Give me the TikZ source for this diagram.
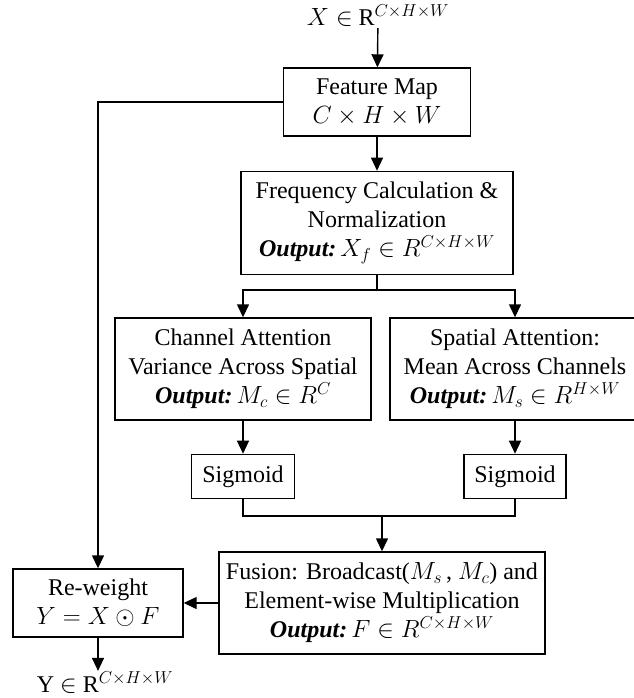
\documentclass[tikz,border=0pt]{standalone}
\usepackage{fontspec}
\setmainfont{Liberation Serif}
\usepackage{tikz}
\usetikzlibrary{arrows.meta, positioning, calc}

\begin{document}
\begin{tikzpicture}[
        x=1pt, y=-1pt,
        box/.style={rectangle, draw, line width=1.4pt, align=center, inner sep=2pt, font=\fontsize{24}{29}\selectfont},
        arrow/.style={-{Triangle[length=13pt, width=12pt]}, line width=1.4pt},
        line/.style={line width=1.4pt},
        label/.style={font=\fontsize{24}{29}\selectfont, inner sep=1pt}
    ]
    \useasboundingbox (0,0) rectangle (633,698);

    \node[label] (xin) at (378,16) {$X \in$ R$^{C\times H\times W}$};
    \node[box, minimum width=187pt, minimum height=68pt] (fmap) at (377,102) {Feature Map \\ $C \times H \times W$};
    \node[box, minimum width=272pt, minimum height=103pt, below=34pt of fmap] (freq) {Frequency Calculation \& \\ Normalization \\ \textbf{\textit{Output:}}\,$X_f \in R^{C\times H\times W}$};
    \node[box, minimum width=256pt, minimum height=102pt] (chan) at (243,369) {Channel Attention \\ Variance Across Spatial \\ \textbf{\textit{Output:}}\,$M_c \in R^{C}$};
    \node[box, minimum width=250pt, minimum height=102pt] (spat) at (515,369) {Spatial Attention: \\ Mean Across Channels \\ \textbf{\textit{Output:}}\,$M_s \in R^{H\times W}$};
    \node[box, minimum width=103pt, minimum height=44pt, below=33pt of chan] (sigc) {Sigmoid};
    \node[box, minimum width=102pt, minimum height=44pt, below=33pt of spat] (sigs) {Sigmoid};
    \node[box, minimum width=326pt, minimum height=102pt] (fuse) at (382,603) {Fusion: Broadcast($M_s$\,, $M_c$) and \\ Element-wise Multiplication \\ \textbf{\textit{Output:}}\,$F \in R^{C\times H\times W}$};
    \node[box, minimum width=170pt, minimum height=68pt] (rew) at (98,603) {Re-weight \\ $Y = X \odot F$};
    \node[label] (yout) at (105,683) {Y $\in$ R$^{C\times H\times W}$};

    \coordinate (split) at (377,290);
    \coordinate (join) at (382,516);

    \draw[arrow] (xin) -- (fmap);
    \draw[arrow] (fmap) -- (freq);
    \draw[arrow] (fmap.west) -| (rew.north);
    \draw[line] (freq.south) -- (split);
    \draw[arrow] (split) -| (chan.north);
    \draw[arrow] (split) -| (spat.north);
    \draw[arrow] (chan) -- (sigc);
    \draw[arrow] (spat) -- (sigs);
    \draw[line] (sigc.south) |- (join);
    \draw[line] (sigs.south) |- (join);
    \draw[arrow] (join) -- (fuse);
    \draw[arrow] (fuse) -- (rew);
    \draw[arrow] (rew.south) -- (rew.south |- yout.north);

    \end{tikzpicture}
\end{document}
